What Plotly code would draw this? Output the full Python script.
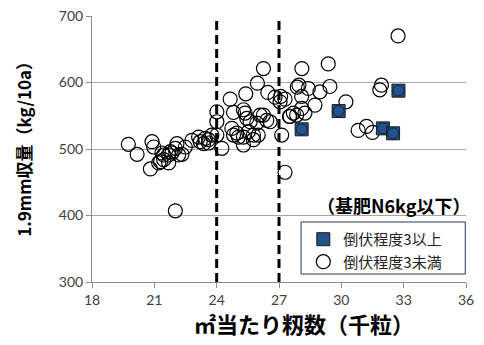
import plotly.graph_objects as go

# Data: lodging degree >= 3 (squares)
sq_x = [28.09, 29.87, 32.0, 32.49, 32.75]
sq_y = [529.6, 557, 531, 523.6, 587.7]

# Data: lodging degree < 3 (circles)
ci_x = [19.75, 20.17, 20.81, 20.89, 20.97, 21.21, 21.3, 21.37, 21.45, 21.45,
        21.69, 21.69, 21.77, 21.85, 22.01, 22.09, 22.17, 22.33, 22.01, 22.49,
        22.81, 23.13, 23.21, 23.37, 23.45, 23.61, 23.61, 23.77, 24.01, 24.01,
        24.01, 24.25, 24.65, 24.73, 24.81, 24.81, 24.97, 25.05, 25.29, 25.29,
        25.29, 25.37, 25.4, 25.45, 25.53, 25.61, 25.77, 25.77, 25.93, 25.96,
        26.0, 26.09, 26.25, 26.25, 26.46, 26.57, 26.41, 26.81, 27.05, 27.08,
        27.13, 27.29, 27.29, 27.5, 27.53, 27.69, 27.85, 27.88, 27.96, 28.09,
        28.09, 28.1, 28.25, 28.41, 28.73, 28.97, 29.37, 29.45, 30.22, 30.81,
        31.21, 31.5, 31.85, 31.93, 32.73]
ci_y = [507, 492, 470, 511, 503, 479, 481, 494, 484, 491,
        479, 491, 496, 494, 501, 508, 491, 492, 407, 503,
        513, 518, 511, 508, 516, 509, 514, 521, 521, 541,
        556, 501, 575, 531, 555, 521, 524, 518, 518, 506,
        559, 554, 583, 546, 526, 541, 521, 514, 539, 599,
        521, 551, 551, 621, 585, 541, 543, 578, 571, 579,
        521, 465, 575, 549, 549, 554, 551, 593, 596, 579,
        561, 621, 554, 591, 566, 586, 628, 594, 571, 528,
        534, 525, 589, 596, 670]

x_ticks = [18, 21, 24, 27, 30, 33, 36]
y_ticks = [300, 400, 500, 600, 700]
thresholds = [24, 27]

cjk = "Noto Sans CJK JP"
num_font = "Lato"

fig = go.Figure()

fig.add_trace(go.Scatter(
    x=ci_x, y=ci_y, mode="markers", name="倒伏程度3未満",
    marker=dict(symbol="circle-open", size=14, color="black",
                line=dict(width=1.2, color="black")),
))
fig.add_trace(go.Scatter(
    x=sq_x, y=sq_y, mode="markers", name="倒伏程度3以上",
    marker=dict(symbol="square", size=13, color="#24528a",
                line=dict(width=1, color="#1a1a1a")),
))
fig.add_trace(go.Scatter(
    x=sq_x, y=sq_y, mode="markers", showlegend=False, hoverinfo="skip",
    marker=dict(symbol="circle-open", size=11, color="#10233f",
                line=dict(width=1, color="#10233f")),
))

for t in thresholds:
    fig.add_shape(type="line", x0=t, x1=t, y0=0, y1=1, xref="x", yref="paper",
                  line=dict(color="black", width=3, dash="9px,5px"))

# legend frame (wider than plotly's auto box)
fig.add_shape(type="rect", xref="paper", yref="paper",
              x0=0.559, x1=0.998, y0=0.030, y1=0.2256,
              line=dict(color="#1f3864", width=1), fillcolor="white", layer="above")

fig.add_annotation(x=0.807, y=0.289, xref="paper", yref="paper",
                   xanchor="center", yanchor="middle",
                   text="（基肥N6kg以下）", showarrow=False,
                   font=dict(family=cjk, size=18, color="black", weight="bold"))

# axis titles
fig.add_annotation(x=0.567, y=-0.154, xref="paper", yref="paper",
                   xanchor="center", yanchor="middle",
                   text="㎡当たり籾数（千粒）", showarrow=False,
                   font=dict(family=cjk, size=22, color="black", weight="bold"))
fig.add_annotation(x=-0.185, y=0.515, xref="paper", yref="paper", textangle=-90,
                   xanchor="center", yanchor="middle",
                   text="1.9mm収量（kg/10a）", showarrow=False,
                   font=dict(family=cjk, size=17, color="black", weight="bold"))

fig.update_layout(
    width=484, height=345,
    margin=dict(l=91.5, r=17.5, t=16, b=63, autoexpand=False),
    plot_bgcolor="white", paper_bgcolor="white",
    showlegend=True,
    legend=dict(x=0.565, y=0.222, xanchor="left", yanchor="top",
                borderwidth=0, bgcolor="rgba(0,0,0,0)",
                font=dict(family=cjk, size=15, color="#222"),
                traceorder="reversed", tracegroupgap=2),
    xaxis=dict(range=[18, 36], tickvals=x_ticks, showgrid=False, automargin=False,
               showline=True, linecolor="#8c8c8c", linewidth=1,
               ticks="outside", ticklen=5, tickcolor="#8c8c8c",
               tickfont=dict(family=num_font, size=14, color="#404040"),
               zeroline=False),
    yaxis=dict(range=[300, 700], tickvals=y_ticks, showgrid=True, automargin=False,
               gridcolor="#a6a6a6", gridwidth=1,
               showline=True, linecolor="#8c8c8c", linewidth=1,
               ticks="outside", ticklen=5, tickcolor="#8c8c8c",
               tickfont=dict(family=num_font, size=14, color="#404040"),
               zeroline=False),
)

fig.write_html("out.html", config={"displayModeBar": False},
               post_script="document.body.style.margin='0';document.body.style.overflow='hidden';")
